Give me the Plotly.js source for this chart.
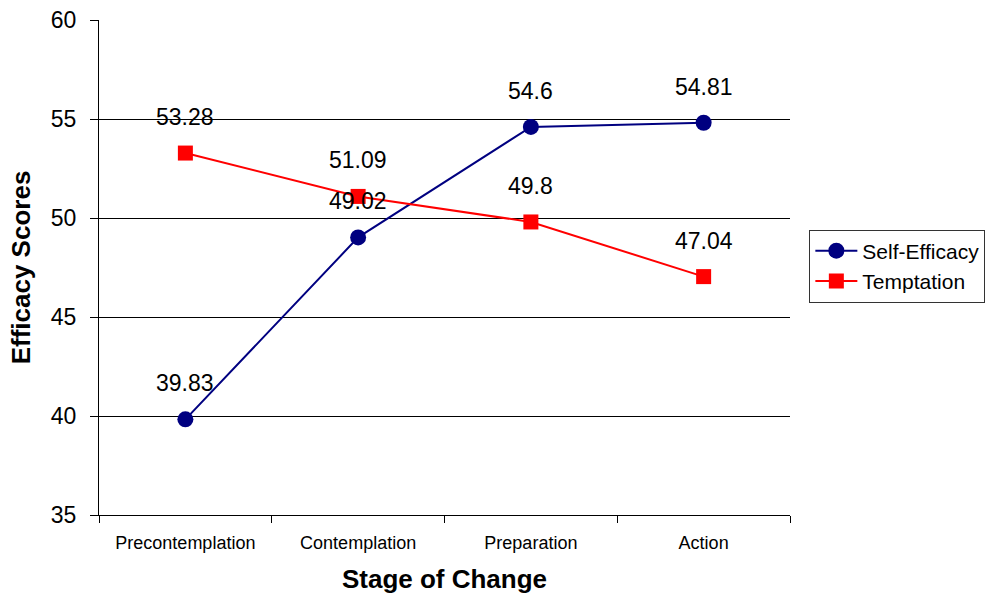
<!DOCTYPE html>
<html><head><meta charset="utf-8">
<script src="https://cdn.plot.ly/plotly-3.0.1.min.js"></script>
<style>body{margin:0;padding:0;background:#fff}#chart{width:1002px;height:597px}</style>
</head><body><div id="chart"></div>
<script>
const categories = ["Precontemplation", "Contemplation", "Preparation", "Action"];
const selfEfficacy = [39.83, 49.02, 54.6, 54.81];
const temptation = [53.28, 51.09, 49.8, 47.04];
const selfLabels = ["39.83", "49.02", "54.6", "54.81"];
const tempLabels = ["53.28", "51.09", "49.8", "47.04"];

const traces = [
  {x: categories, y: selfEfficacy, name: "Self-Efficacy", type: "scatter", mode: "lines+markers",
   line: {color: "#000080", width: 2}, marker: {color: "#000080", size: 16, symbol: "circle"}},
  {x: categories, y: temptation, name: "Temptation", type: "scatter", mode: "lines+markers",
   line: {color: "#FF0000", width: 2}, marker: {color: "#FF0000", size: 15, symbol: "square"}}
];

const annotations = [];
function addLabels(vals, labels) {
  vals.forEach((v, i) => annotations.push({x: categories[i], y: v, text: labels[i], showarrow: false,
    yshift: 36, font: {family: "Liberation Sans, Arial, sans-serif", size: 23, color: "#000"}}));
}
addLabels(selfEfficacy, selfLabels);
addLabels(temptation, tempLabels);

const layout = {
  width: 1002, height: 597,
  margin: {l: 99, r: 212, t: 20, b: 82},
  paper_bgcolor: "#fff", plot_bgcolor: "#fff",
  font: {family: "Liberation Sans, Arial, sans-serif", color: "#000"},
  xaxis: {type: "category", tickson: "boundaries", ticks: "outside", ticklen: 7, tickcolor: "#000",
    showgrid: false, showline: true, linecolor: "#000", linewidth: 1, range: [-0.5, 3.5],
    tickfont: {size: 18}, zeroline: false, ticklabelstandoff: 11,
    title: {text: "<b>Stage of Change</b>", font: {size: 26}, standoff: 18}},
  yaxis: {range: [35, 60], dtick: 5, tick0: 35, ticks: "outside", ticklen: 8, tickcolor: "#000",
    showgrid: true, gridcolor: "#000", gridwidth: 1, showline: true, linecolor: "#000", zeroline: false,
    tickfont: {size: 23}, ticklabelstandoff: 9,
    title: {text: "<b>Efficacy Scores</b>", font: {size: 26}, standoff: 12}},
  showlegend: true,
  legend: {x: 1.028, y: 0.503, xanchor: "left", yanchor: "middle", bordercolor: "#333", borderwidth: 1,
    font: {size: 21}, bgcolor: "#fff", tracegroupgap: 2, itemwidth: 42},
  annotations: annotations
};
Plotly.newPlot("chart", traces, layout, {displayModeBar: false, staticPlot: true});
</script></body></html>
